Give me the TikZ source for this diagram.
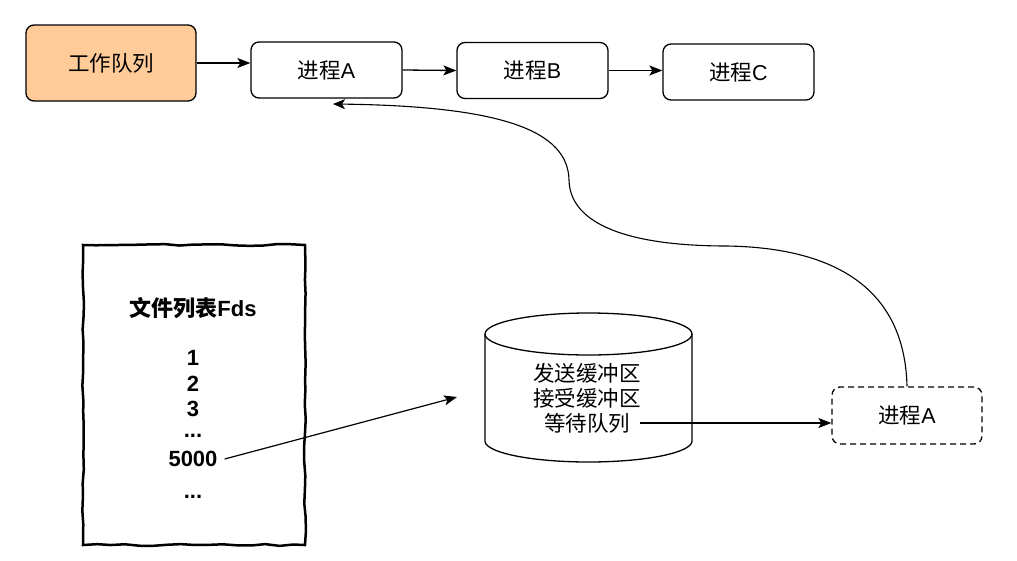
\documentclass[tikz,border=0pt]{standalone}
\usepackage{fontspec}
\setmainfont{Liberation Sans}
\newfontfamily\cjk{Noto Sans CJK SC}
\usetikzlibrary{arrows.meta,decorations.pathmorphing,calc}
\definecolor{queuefill}{HTML}{FFCC99}
\begin{document}
\begin{tikzpicture}[x=1pt,y=-1pt,
  box/.style={draw, line width=1.3pt, rounded corners=8pt, minimum width=151pt, minimum height=56pt,
              font=\fontsize{21.5}{24}\selectfont, inner sep=0pt},
  conn/.style={line width=1.3pt, -{Stealth[length=13pt,width=10pt,inset=3pt]}},
  txt/.style={font=\fontsize{21.5}{24}\selectfont, inner sep=0pt},
  doctxt/.style={font=\fontsize{22}{24}\selectfont\bfseries, inner sep=0pt}
]
\pgfmathsetseed{7}
\useasboundingbox (0,0) rectangle (1017,560);

% top row
\node[box, fill=queuefill, minimum width=170pt, minimum height=76pt] (queue) at (111,63) {\cjk 工作队列};
\node[box] (pA) at (326.5,70) {{\cjk 进程}A};
\node[box] (pB) at (532.5,70.5) {{\cjk 进程}B};
\node[box] (pC) at (738.5,72) {{\cjk 进程}C};

\draw[conn] (queue.east) -- (pA.west |- queue.east);
\draw[conn] (pA.east) -- (pB.west);
\draw[conn] (pB.east) -- (pC.west |- pB.east);

% dashed process
\node[box, dashed, dash pattern=on 6pt off 4pt, minimum width=150pt, minimum height=57pt] (pA2) at (907,415.5) {{\cjk 进程}A};

% cylinder
\node[minimum width=207pt, minimum height=149pt, inner sep=0pt] (cyl) at (588.5,387.5) {};
\draw[line width=1.3pt] (588.5,334) ellipse [x radius=103.5pt, y radius=21pt];
\draw[line width=1.3pt] (485,334) -- (485,441)
  plot[domain=180:0, smooth, samples=50] ({588.5+103.5*cos(\x)},{441+21*sin(\x)})
  -- (692,334);
\node[txt] (send) at (587,373) {\cjk 发送缓冲区};
\node[txt] (recv) at (587,398) {\cjk 接受缓冲区};
\node[txt] (wait) at (587,423) {\cjk 等待队列};
\coordinate (waitstart) at ($(wait.east)+(10,0)$);
\draw[conn] (waitstart) -- (pA2.west |- waitstart);

% curved connector back to process A
\coordinate (aTip) at (333,104);
\draw[line width=1.1pt, -{Stealth[length=12pt,width=10pt,inset=3pt]}]
  (pA2.north) .. controls (905,300) and (850,248) .. (727,246)
  .. controls (630,246) and (570,225) .. (569,180)
  .. controls (568,130) and (500,106) .. (aTip);

% file list document
\draw[line width=2.5pt, decorate, decoration={random steps, segment length=14pt, amplitude=0.9pt}]
  (83,245) rectangle (305,545);
\node[doctxt] (title) at (193,308) {{\cjk\bfseries 文件列表}Fds};
\node[doctxt] (n1) at (193,358) {1};
\node[doctxt] (n2) at (193,384) {2};
\node[doctxt] (n3) at (193,409) {3};
\node[doctxt] (d1) at (193,436) {...};
\node[doctxt] (n5000) at (193,459) {5000};
\node[doctxt] (d2) at (193,497) {...};

\coordinate (docstart) at ($(n5000.east)+(7,0)$);
\coordinate (docend) at (457,397);
\draw[conn, line width=1.2pt] (docstart) -- (docend);
\end{tikzpicture}
\end{document}
